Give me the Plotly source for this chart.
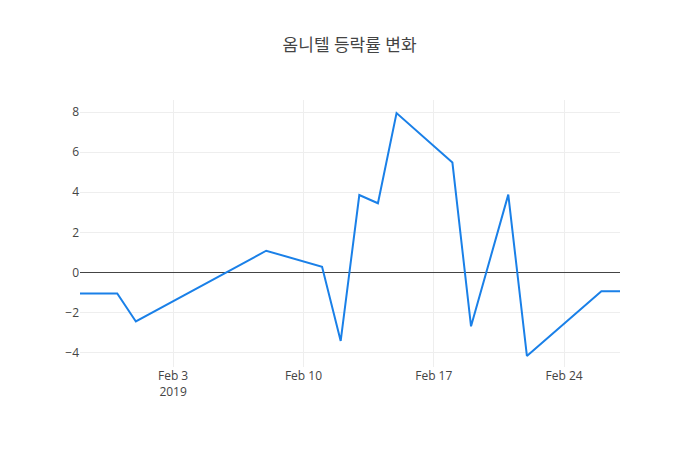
import plotly.graph_objects as go

# 옴니텔 daily change rate (%), trading days only
dates = ['2019-01-29', '2019-01-31', '2019-02-01', '2019-02-08', '2019-02-11',
         '2019-02-12', '2019-02-13', '2019-02-14', '2019-02-15', '2019-02-18',
         '2019-02-19', '2019-02-21', '2019-02-22', '2019-02-26', '2019-02-27']
rates = [-1.05, -1.05, -2.45, 1.08, 0.28,
         -3.42, 3.86, 3.45, 7.95, 5.48,
         -2.69, 3.88, -4.17, -0.94, -0.94]

fig = go.Figure()
fig.add_trace(go.Scatter(x=dates, y=rates, mode='lines',
                         line=dict(color='#1a80e8', width=2)))

# page body adds an 8px offset, so the margins are shifted to compensate
fig.update_layout(
    width=700, height=450,
    title=dict(text='옴니텔 등락률 변화', x=0.488, xanchor='center', y=0.93,
               font=dict(size=17, color='#444')),
    font=dict(family='Open Sans, Noto Sans CJK KR, sans-serif', size=12, color='#444'),
    paper_bgcolor='white', plot_bgcolor='white',
    margin=dict(l=72, r=88, t=92, b=91),
    showlegend=False,
    xaxis=dict(range=['2019-01-29', '2019-02-27'], showgrid=True, gridcolor='#eee',
               zeroline=False, showline=False, ticks='',
               tickvals=['2019-02-03', '2019-02-10', '2019-02-17', '2019-02-24'],
               ticktext=['Feb 3<br>2019', 'Feb 10', 'Feb 17', 'Feb 24']),
    yaxis=dict(range=[-4.72, 8.6], dtick=2, showgrid=True, gridcolor='#eee',
               zeroline=True, zerolinecolor='#444', zerolinewidth=1,
               showline=False, ticks=''),
)

fig.write_html('out.html')
